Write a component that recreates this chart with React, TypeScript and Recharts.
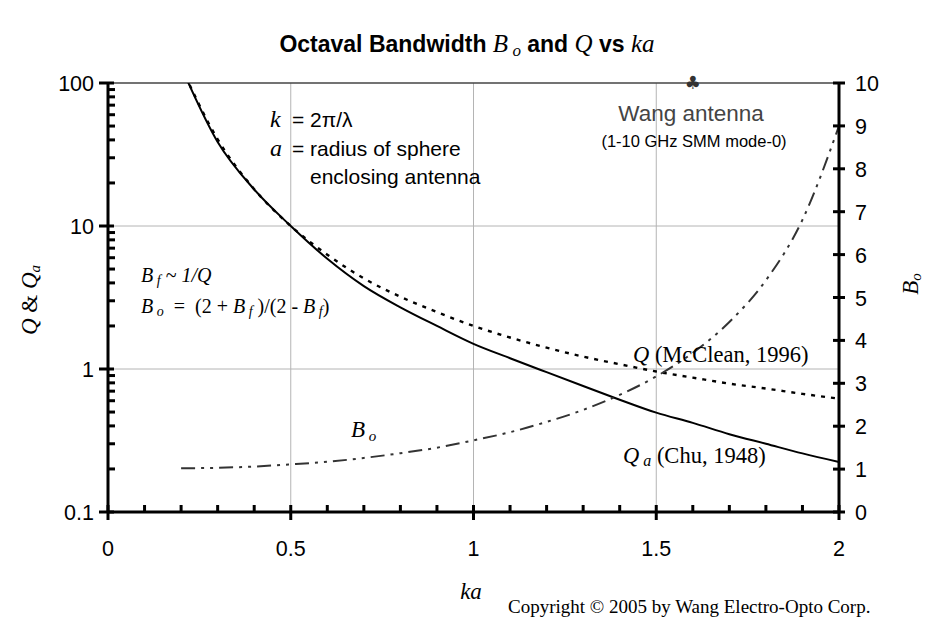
import { ComposedChart, Line, Scatter, XAxis, YAxis, CartesianGrid, ReferenceLine } from 'recharts'

// ka sample points and the three curves
const kaValues = [0.2, 0.3, 0.4, 0.5, 0.6, 0.7, 0.8, 0.9, 1.0, 1.1, 1.2, 1.3, 1.4, 1.5, 1.6, 1.7, 1.8, 1.9, 2.0]
const qChu = [130, 38.7, 18, 10, 5.9, 3.8, 2.7, 2.0, 1.5, 1.19, 0.95, 0.76, 0.61, 0.495, 0.42, 0.35, 0.3, 0.257, 0.224]
const qMcClean = [130, 40.4, 18.1, 10, 6.3, 4.3, 3.2, 2.5, 2.0, 1.66, 1.41, 1.22, 1.08, 0.96, 0.87, 0.79, 0.73, 0.67, 0.62]
const boValues = [1.02, 1.03, 1.06, 1.11, 1.17, 1.26, 1.37, 1.5, 1.67, 1.86, 2.1, 2.38, 2.73, 3.16, 3.71, 4.43, 5.4, 6.81, 9.0]

// Wang antenna marker
const wangPoint = [{ ka: 1.6, bo: 10 }]

const xTicks = [0, 0.1, 0.2, 0.3, 0.4, 0.5, 0.6, 0.7, 0.8, 0.9, 1, 1.1, 1.2, 1.3, 1.4, 1.5, 1.6, 1.7, 1.8, 1.9, 2]
const xMajor = [0, 0.5, 1, 1.5, 2]
const leftTicks = [
  0.1, 0.2, 0.3, 0.4, 0.5, 0.6, 0.7, 0.8, 0.9,
  1, 2, 3, 4, 5, 6, 7, 8, 9,
  10, 20, 30, 40, 50, 60, 70, 80, 90, 100,
]
const leftMajor = [0.1, 1, 10, 100]
const rightTicks = [0, 1, 2, 3, 4, 5, 6, 7, 8, 9, 10]

const data = kaValues.map((k, i) => ({ ka: k, qa: qChu[i], qm: qMcClean[i], bo: boValues[i] }))

const SANS = '"Liberation Sans", Arial, sans-serif'
const SERIF = '"Liberation Serif", "Times New Roman", serif'

const LeftTick = (props: any) => {
  const { x, y, payload } = props
  const major = leftMajor.includes(payload.value)
  return (
    <g>
      {major ? (
        <line x1={x - 9} x2={x + 6} y1={y} y2={y} stroke='#000' strokeWidth={3} />
      ) : (
        <line x1={x} x2={x + 7} y1={y} y2={y} stroke='#000' strokeWidth={3} />
      )}
      {major && (
        <text x={x - 14} y={y + 8} textAnchor='end' fontFamily={SANS} fontSize={21.5} fill='#000'>
          {payload.value}
        </text>
      )}
    </g>
  )
}

const RightTick = (props: any) => {
  const { x, y, payload } = props
  return (
    <g>
      <line x1={x - 6} x2={x + 6} y1={y} y2={y} stroke='#000' strokeWidth={3} />
      <text x={x + 16} y={y + 8} textAnchor='start' fontFamily={SANS} fontSize={21.5} fill='#000'>
        {payload.value}
      </text>
    </g>
  )
}

const BottomTick = (props: any) => {
  const { x, y, payload } = props
  const major = xMajor.includes(payload.value)
  return (
    <g>
      <line x1={x} x2={x} y1={y - 7} y2={major ? y + 8 : y} stroke='#000' strokeWidth={3} />
      {major && (
        <text x={x} y={y + 44} textAnchor='middle' fontFamily={SANS} fontSize={21.5} fill='#000'>
          {payload.value}
        </text>
      )}
    </g>
  )
}

const Club = (props: any) => (
  <text x={props.cx} y={props.cy + 6} textAnchor='middle' fontFamily='"DejaVu Sans", sans-serif' fontSize={18} fill='#333'>
    ♣
  </text>
)

const App = () => {
  return (
    <div style={{ position: 'absolute', left: 0, top: 0, width: 928, height: 620, background: '#fff' }}>
      <ComposedChart width={928} height={620} data={data} margin={{ top: 83, right: 29, bottom: 68, left: 48 }}>
        <CartesianGrid yAxisId='left' stroke='#b4b4b4' strokeWidth={1} horizontalValues={[1, 10]} verticalValues={[0.5, 1, 1.5]} />
        <ReferenceLine yAxisId='left' y={100} stroke='#444' strokeWidth={1.5} />
        <XAxis
          dataKey='ka'
          type='number'
          domain={[0, 2]}
          ticks={xTicks}
          interval={0}
          height={40}
          tickSize={0}
          tickMargin={0}
          tickLine={false}
          axisLine={{ stroke: '#000', strokeWidth: 3 }}
          tick={<BottomTick />}
        />
        <YAxis
          yAxisId='left'
          scale='log'
          domain={[0.1, 100]}
          allowDataOverflow
          ticks={leftTicks}
          interval={0}
          width={60}
          tickSize={0}
          tickMargin={0}
          tickLine={false}
          axisLine={{ stroke: '#000', strokeWidth: 3 }}
          tick={<LeftTick />}
        />
        <YAxis
          yAxisId='right'
          orientation='right'
          type='number'
          domain={[0, 10]}
          ticks={rightTicks}
          interval={0}
          width={60}
          tickSize={0}
          tickMargin={0}
          tickLine={false}
          axisLine={{ stroke: '#000', strokeWidth: 3 }}
          tick={<RightTick />}
        />
        <Line yAxisId='left' type='monotone' dataKey='qm' stroke='#000' strokeWidth={2.4} strokeDasharray='4 6' dot={false} isAnimationActive={false} />
        <Line yAxisId='left' type='monotone' dataKey='qa' stroke='#000' strokeWidth={2} dot={false} isAnimationActive={false} />
        <Line yAxisId='right' type='monotone' dataKey='bo' stroke='#333' strokeWidth={2} strokeDasharray='14 6 3 6 3 6' dot={false} isAnimationActive={false} />
        <Scatter yAxisId='right' data={wangPoint} dataKey='bo' shape={<Club />} isAnimationActive={false} />
      </ComposedChart>
      <svg width={928} height={620} style={{ position: 'absolute', left: 0, top: 0, pointerEvents: 'none' }}>
        <text x={467} y={52} textAnchor='middle' fontFamily={SANS} fontSize={23} fontWeight='bold' fill='#000'>
          Octaval Bandwidth{' '}
          <tspan fontFamily={SERIF} fontStyle='italic' fontWeight='normal' fontSize={25}>B</tspan>
          <tspan fontFamily={SERIF} fontStyle='italic' fontWeight='normal' fontSize={17} dy={4}> o</tspan>
          <tspan dy={-4}> and </tspan>
          <tspan fontFamily={SERIF} fontStyle='italic' fontWeight='normal' fontSize={25}>Q</tspan>
          <tspan> vs </tspan>
          <tspan fontFamily={SERIF} fontStyle='italic' fontWeight='normal' fontSize={25}>ka</tspan>
        </text>

        <text transform='translate(37,300) rotate(-90)' textAnchor='middle' fontFamily={SERIF} fontSize={23} fill='#000'>
          <tspan fontStyle='italic'>Q</tspan>
          <tspan>  &amp;  </tspan>
          <tspan fontStyle='italic'>Q</tspan>
          <tspan fontStyle='italic' fontSize={15} dy={3}>a</tspan>
        </text>
        <text transform='translate(918,284) rotate(-90)' textAnchor='middle' fontFamily={SERIF} fontSize={23} fill='#000'>
          <tspan fontStyle='italic'>B</tspan>
          <tspan fontStyle='italic' fontSize={15} dy={3}>o</tspan>
        </text>
        <text x={471} y={599} textAnchor='middle' fontFamily={SERIF} fontStyle='italic' fontSize={23} fill='#000'>
          ka
        </text>
        <text x={508} y={613} fontFamily={SERIF} fontSize={19} fill='#000'>
          Copyright © 2005 by Wang Electro-Opto Corp.
        </text>

        <text x={270} y={127} fontFamily={SERIF} fontStyle='italic' fontSize={24} fill='#000'>k</text>
        <text x={292} y={127} fontFamily={SANS} fontSize={21} fill='#000'>= 2π/λ</text>
        <text x={270} y={156} fontFamily={SERIF} fontStyle='italic' fontSize={24} fill='#000'>a</text>
        <text x={292} y={156} fontFamily={SANS} fontSize={21} fill='#000'>= radius of sphere</text>
        <text x={310} y={184} fontFamily={SANS} fontSize={21} fill='#000'>enclosing antenna</text>

        <text x={141} y={282} fontFamily={SERIF} fontStyle='italic' fontSize={20} fill='#000' xmlSpace='preserve'>
          B<tspan fontSize={14} dy={3}> f</tspan>
          <tspan dy={-3}>{' ~ 1/Q'}</tspan>
        </text>
        <text x={141} y={313} fontFamily={SERIF} fontStyle='italic' fontSize={20} fill='#000' xmlSpace='preserve'>
          B<tspan fontSize={14} dy={3}> o</tspan>
          <tspan dy={-3} fontStyle='normal'>{'  =  (2 + '}</tspan>
          <tspan>B</tspan>
          <tspan fontSize={14} dy={3}> f</tspan>
          <tspan dy={-3} fontStyle='normal'>{' )/(2 - '}</tspan>
          <tspan>B</tspan>
          <tspan fontSize={14} dy={3}> f</tspan>
          <tspan dy={-3} fontStyle='normal'>)</tspan>
        </text>

        <text x={351} y={437} fontFamily={SERIF} fontStyle='italic' fontSize={23} fill='#000'>
          B<tspan fontSize={15} dy={4}> o</tspan>
        </text>
        <text x={633} y={362} fontFamily={SERIF} fontSize={22.5} fill='#000'>
          <tspan fontStyle='italic'>Q</tspan> (McClean, 1996)
        </text>
        <text x={623} y={463} fontFamily={SERIF} fontSize={22.5} fill='#000'>
          <tspan fontStyle='italic'>Q</tspan>
          <tspan fontStyle='italic' fontSize={16} dy={3}> a</tspan>
          <tspan dy={-3}> (Chu, 1948)</tspan>
        </text>

        <text x={691} y={121} textAnchor='middle' fontFamily={SANS} fontSize={22.5} fill='#444'>
          Wang antenna
        </text>
        <text x={694} y={147} textAnchor='middle' fontFamily={SANS} fontSize={16.5} fill='#000'>
          (1-10 GHz SMM mode-0)
        </text>
      </svg>
    </div>
  )
}

export default App
